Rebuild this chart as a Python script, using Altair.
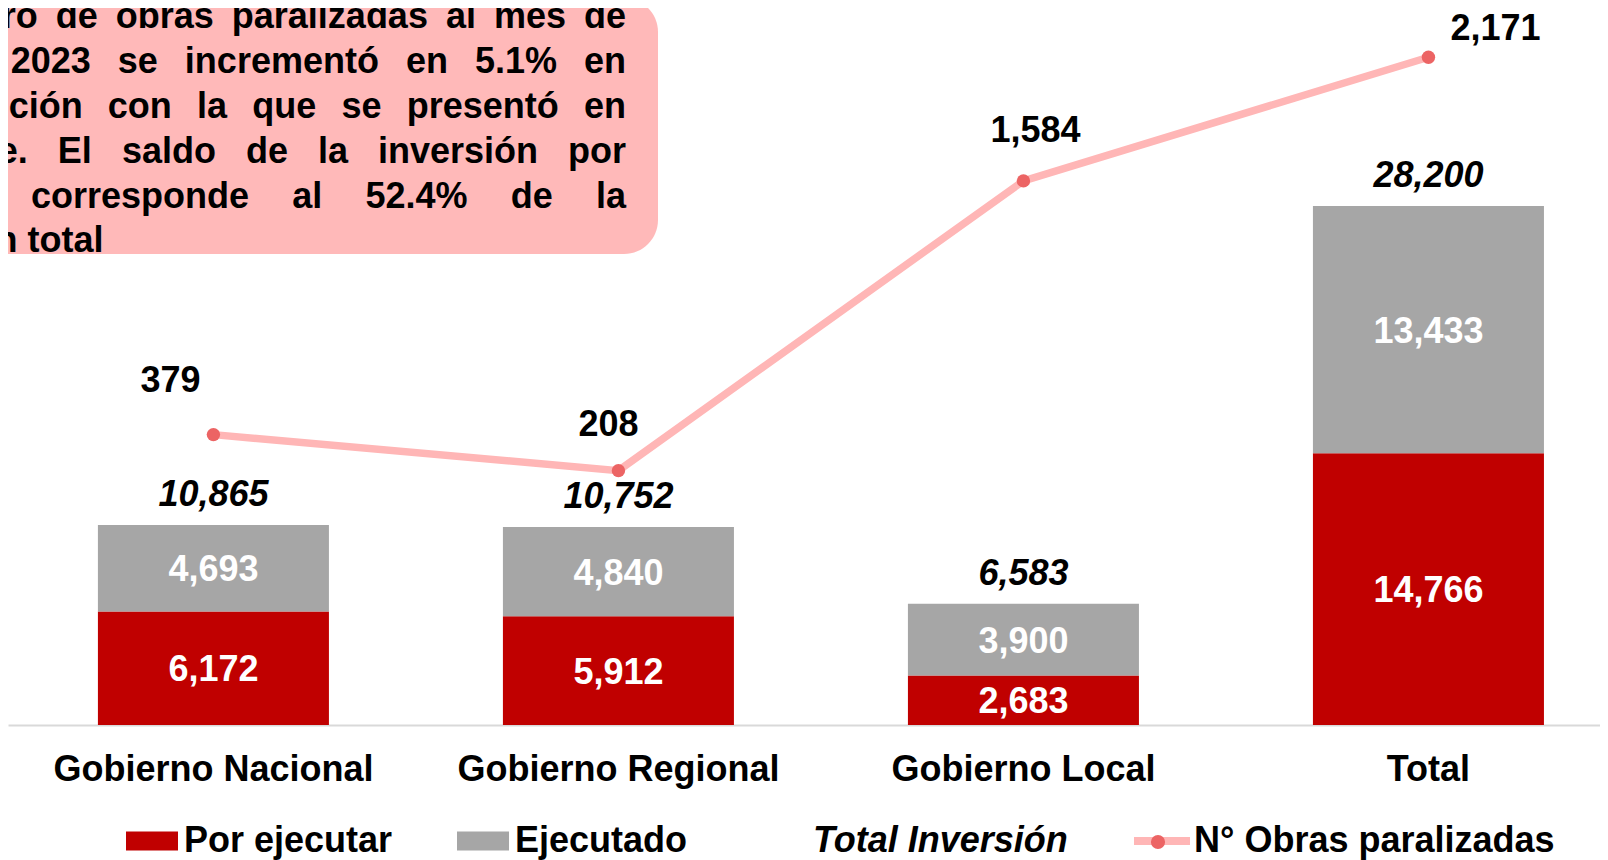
import altair as alt
import pandas as pd

# ---------------- data ----------------
categories = ["Gobierno Nacional", "Gobierno Regional", "Gobierno Local", "Total"]
series_names = ["Por ejecutar", "Ejecutado"]
por_ejecutar = [6172, 5912, 2683, 14766]
ejecutado = [4693, 4840, 3900, 13433]
total_inversion = [10865, 10752, 6583, 28200]
obras_paralizadas = [379, 208, 1584, 2171]
total_label = "Total Inversión"
line_label = "N° Obras paralizadas"
note_words = [
    ["ro", "de", "obras", "paralizadas", "al", "mes", "de"],
    ["2023", "se", "incrementó", "en", "5.1%", "en"],
    ["ción", "con", "la", "que", "se", "presentó", "en"],
    ["e.", "El", "saldo", "de", "la", "inversión", "por"],
    ["corresponde", "al", "52.4%", "de", "la"],
]
note_last = "n total"

# ---------------- style ----------------
RED = "#C00000"
GREY = "#A6A6A6"
LINE_PINK = "#FFB6B6"
DOT = "#EC6464"
BOX = "#FFB9B9"
FONT = "Liberation Sans"
FS = 36
W, H = 1592, 717
# justification gaps (typographic spaces) for the note lines
note_gaps = ["\u2002", "\u2002\u2005", "\u2002\u2009", "\u2002\u2004", "\u2003\u2009"]
note_lines = [g.join(ws) for g, ws in zip(note_gaps, note_words)]
line_label_offsets = [(-43, -43), (-10, -35), (12, -39), (67, -17)]

bars_df = pd.DataFrame({
    "cat": categories * 2,
    "serie": [series_names[0]] * len(categories) + [series_names[1]] * len(categories),
    "value": por_ejecutar + ejecutado,
    "ord": [0] * len(categories) + [1] * len(categories),
})
tot_df = pd.DataFrame({"cat": categories, "total": total_inversion,
                       "tlbl": [total_label] * len(categories)})
line_df = pd.DataFrame({"cat": categories, "obras": obras_paralizadas,
                        "llbl": [line_label] * len(categories)})
one = pd.DataFrame({"k": [0]})

Y1 = alt.Scale(domain=[0, 38950], nice=False, zero=False)
Y2 = alt.Scale(domain=[-1000, 2405], nice=False, zero=False)
xscale = alt.Scale(domain=categories, paddingInner=0.4296, paddingOuter=0.1802, align=0.616)
xaxis = alt.Axis(title=None, labelFont=FONT, labelFontSize=FS, labelFontWeight="bold",
                 labelColor="#000000", ticks=False, domainColor="#D9D9D9", domainWidth=2,
                 labelPadding=27, labelAngle=0, labelLimit=800, labelOverlap=False, grid=False)
X = alt.X("cat:N", sort=categories, scale=xscale, axis=xaxis)

leg_common = dict(title=None, orient="none", direction="horizontal", labelFont=FONT,
                  labelFontSize=FS, labelFontWeight="bold", labelColor="#000000", labelLimit=600)

legA = alt.Legend(legendX=118, legendY=807, symbolType="M-1,-0.365H1V0.365H-1Z",
                  symbolSize=2704, symbolStrokeWidth=0, labelOffset=6, columnPadding=64,
                  **leg_common)
legB = alt.Legend(legendX=767, legendY=815, symbolType="M0,0", symbolSize=0,
                  symbolStrokeWidth=0, labelOffset=2, labelFontStyle="italic", **leg_common)
legC = alt.Legend(legendX=1122, legendY=801, symbolType="M-1,0H1",
                  symbolSize=3136, symbolStrokeWidth=8, labelOffset=0, **leg_common)
legD = alt.Legend(title=None, orient="none", direction="horizontal", legendX=1132, legendY=816,
                  symbolType="circle", symbolSize=200, symbolStrokeWidth=0, symbolOpacity=1,
                  labelExpr="''", labelFontSize=FS)

# note box
box = alt.Chart(one).mark_rect(color=BOX, cornerRadiusTopRight=34,
                               cornerRadiusBottomRight=34).encode(
    x=alt.value(-20), x2=alt.value(650), y=alt.value(-10), y2=alt.value(246))
note = alt.Chart(one).mark_text(text=note_lines, font=FONT, fontSize=FS, fontWeight="bold",
                                color="#000000", align="right", baseline="alphabetic",
                                lineHeight=45).encode(x=alt.value(618), y=alt.value(20))
note2 = alt.Chart(one).mark_text(text=note_last, font=FONT, fontSize=FS, fontWeight="bold",
                                 color="#000000", align="left", baseline="alphabetic").encode(
    x=alt.value(-12.5), y=alt.value(244))

bars = alt.Chart(bars_df).mark_bar().encode(
    x=X,
    y=alt.Y("value:Q", stack="zero", scale=Y1, axis=None),
    color=alt.Color("serie:N", scale=alt.Scale(domain=series_names, range=[RED, GREY]), legend=legA),
    order=alt.Order("ord:Q"),
)

seg = alt.Chart(bars_df).transform_stack(
    stack="value", groupby=["cat"], as_=["v0", "v1"], sort=[alt.SortField("ord")]
).transform_calculate(mid="(datum.v0 + datum.v1) / 2").mark_text(
    font=FONT, fontSize=FS, fontWeight="bold", color="#FFFFFF", baseline="middle", dy=2
).encode(x=X, y=alt.Y("mid:Q", scale=Y1, axis=None), text=alt.Text("value:Q", format=","))

tot = alt.Chart(tot_df).mark_text(
    font=FONT, fontSize=FS, fontWeight="bold", fontStyle="italic", color="#000000",
    baseline="alphabetic", dy=-19
).encode(
    x=X, y=alt.Y("total:Q", scale=Y1, axis=None), text=alt.Text("total:Q", format=","),
    opacity=alt.Opacity("tlbl:N", scale=alt.Scale(domain=[total_label], range=[1]), legend=legB),
)

line = alt.Chart(line_df).mark_line(strokeWidth=7.5).encode(
    x=X, y=alt.Y("obras:Q", scale=Y2, axis=None),
    stroke=alt.Stroke("llbl:N", scale=alt.Scale(domain=[line_label], range=[LINE_PINK]), legend=legC),
)
# the dot legend needs its own domain so it is not merged with the line legend
pts = alt.Chart(line_df).transform_calculate(plbl="'punto'").mark_circle(size=180, opacity=1).encode(
    x=X, y=alt.Y("obras:Q", scale=Y2, axis=None),
    fill=alt.Fill("plbl:N", scale=alt.Scale(domain=["punto"], range=[DOT]), legend=legD),
)

line_labels = []
for cat, (dx, dy) in zip(categories, line_label_offsets):
    line_labels.append(
        alt.Chart(line_df).transform_filter(alt.datum.cat == cat).mark_text(
            font=FONT, fontSize=FS, fontWeight="bold", color="#000000",
            baseline="alphabetic", dx=dx, dy=dy
        ).encode(x=X, y=alt.Y("obras:Q", scale=Y2, axis=None),
                 text=alt.Text("obras:Q", format=","))
    )

chart = alt.layer(box, note, note2, bars, seg, tot, line, pts, *line_labels).resolve_scale(
    y="independent"
).properties(
    width=W, height=H,
    autosize=alt.AutoSizeParams(type="none"),
    padding={"left": 0, "top": 0, "right": 0, "bottom": 135},
).configure_view(stroke=None)

chart.save("out.html", embed_options={"renderer": "svg", "actions": False})
